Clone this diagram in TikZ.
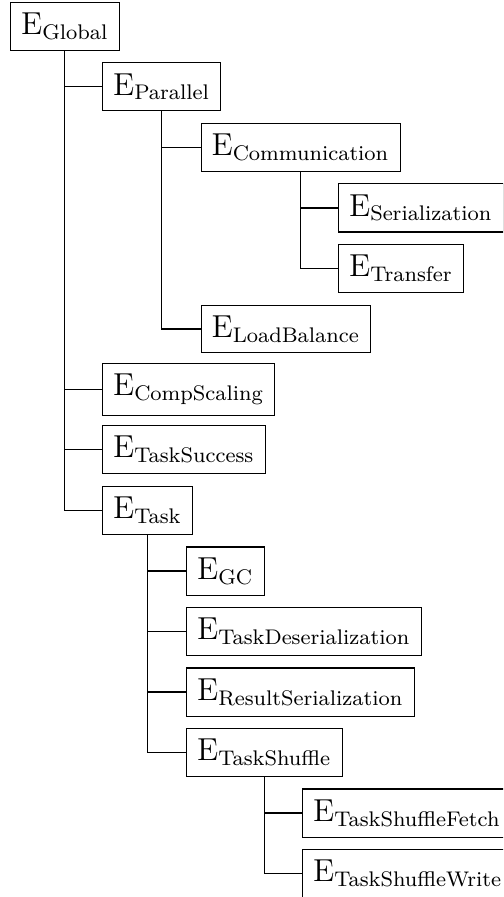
\documentclass[12pt,tikz,border=0pt]{standalone}
\usepackage{amsmath}
\begin{document}
\begin{tikzpicture}[x=0.378pt,y=-0.378pt,
  ebox/.style={draw,anchor=west,inner sep=0.3333em},
  branch/.style={draw,line width=0.4pt}]
\clip (0,0) rectangle (503,897);
\useasboundingbox (0,0) rectangle (503,897);
% level 0
\node[ebox] (glob) at (10,26.5) {$\mathrm{E}_{\text{Global}}$};
% Global's children
\node[ebox] (par)  at (102,86.8)  {$\mathrm{E}_{\text{Parallel}}$};
\node[ebox] (comm) at (200.5,147.4) {$\mathrm{E}_{\text{Communication}}$};
\node[ebox] (ser)  at (338,208)   {$\mathrm{E}_{\text{Serialization}}$};
\node[ebox] (tra)  at (338,268.5) {$\mathrm{E}_{\text{Transfer}}$};
\node[ebox] (lb)   at (200.5,329) {$\mathrm{E}_{\text{LoadBalance}}$};
\node[ebox] (cs)   at (102,389.5) {$\mathrm{E}_{\text{CompScaling}}$};
\node[ebox] (ts)   at (102,449.5) {$\mathrm{E}_{\text{TaskSuccess}}$};
\node[ebox] (task) at (102,510.5) {$\mathrm{E}_{\text{Task}}$};
% Task's children
\node[ebox] (gc)   at (186,571)   {$\mathrm{E}_{\text{GC}}$};
\node[ebox] (tdes) at (186,631.5) {$\mathrm{E}_{\text{TaskDeserialization}}$};
\node[ebox] (rser) at (186,692)   {$\mathrm{E}_{\text{ResultSerialization}}$};
\node[ebox] (tsh)  at (186,752.5) {$\mathrm{E}_{\text{TaskShuffle}}$};
\node[ebox] (tshf) at (302,813)   {$\mathrm{E}_{\text{TaskShuffleFetch}}$};
\node[ebox] (tshw) at (302,873.5) {$\mathrm{E}_{\text{TaskShuffleWrite}}$};
% parent-to-child connectors
\foreach \p/\c in {glob/par,glob/cs,glob/ts,glob/task,
                   par/comm,par/lb,
                   comm/ser,comm/tra,
                   task/gc,task/tdes,task/rser,task/tsh,
                   tsh/tshf,tsh/tshw}
  \draw[branch] (\p.south) |- (\c.west);
\end{tikzpicture}
\end{document}
